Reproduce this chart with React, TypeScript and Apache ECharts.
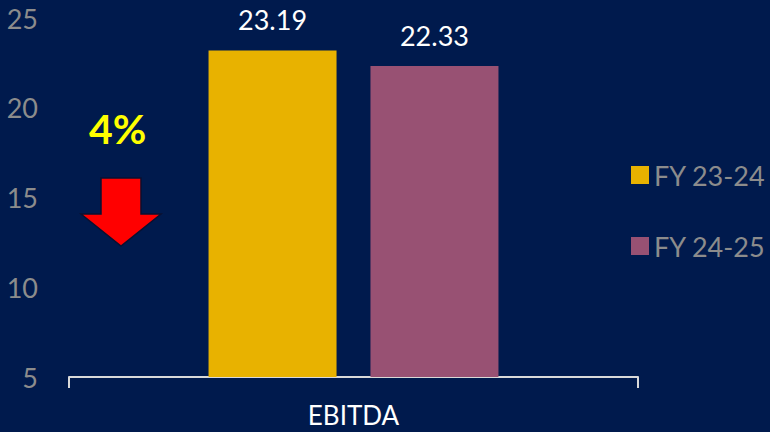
import React, { useEffect, useRef } from "react";
import * as echarts from "echarts";

const categories = ["EBITDA"];
const seriesNames = ["FY 23-24", "FY 24-25"];
const fy2324 = [23.19];
const fy2425 = [22.33];
const changeLabel = "4%";

export default function App() {
  const ref = useRef<HTMLDivElement>(null);
  useEffect(() => {
    document.body.style.margin = "0";
    const chart = echarts.init(ref.current!, null, { renderer: "svg" });
    const font = "Lato, 'Open Sans', sans-serif";
    chart.setOption({
      animation: false,
      backgroundColor: "#001a4d",
      grid: { left: 69, right: 132, top: 18, bottom: 55, containLabel: false },
      legend: {
        orient: "vertical",
        left: 626,
        top: 156,
        itemWidth: 18,
        itemHeight: 18,
        itemGap: 43,
        itemTextGap: 13,
        icon: "rect",
        textStyle: { color: "#8c8c8c", fontSize: 27, lineHeight: 28, fontFamily: font },
        data: seriesNames,
      },
      xAxis: {
        type: "category",
        data: categories,
        axisLine: { lineStyle: { color: "#d9d9d9", width: 2 } },
        axisTick: { show: true, length: 11, lineStyle: { color: "#d9d9d9", width: 2 } },
        axisLabel: { color: "#ffffff", fontSize: 26, lineHeight: 26, fontFamily: font, margin: 25 },
      },
      yAxis: {
        type: "value",
        min: 5,
        max: 25,
        interval: 5,
        axisLine: { show: false },
        axisTick: { show: false },
        splitLine: { show: false },
        axisLabel: { color: "#8c8c8c", fontSize: 27, fontFamily: font, margin: 31 },
      },
      series: [
        {
          name: seriesNames[0],
          type: "bar",
          data: fy2324,
          barWidth: 128,
          barGap: "26.5%",
          itemStyle: { color: "#e8b200" },
          label: { show: true, position: "top", distance: 17, color: "#ffffff", fontSize: 27, fontFamily: font },
        },
        {
          name: seriesNames[1],
          type: "bar",
          data: fy2425,
          barWidth: 128,
          itemStyle: { color: "#985173" },
          label: { show: true, position: "top", distance: 17, color: "#ffffff", fontSize: 27, fontFamily: font },
        },
      ],
      graphic: [
        {
          type: "text",
          left: 89,
          top: 108,
          style: { text: changeLabel, fill: "#ffff00", fontSize: 41, fontWeight: "bold", fontFamily: font },
        },
        {
          type: "polygon",
          shape: {
            points: [
              [101, 178],
              [141, 178],
              [141, 214],
              [161, 214],
              [121, 246],
              [81, 214],
              [101, 214],
            ],
          },
          style: { fill: "#ff0000", stroke: "#0a1030", lineWidth: 1.5 },
        },
      ],
    });
    return () => chart.dispose();
  }, []);
  return <div ref={ref} style={{ position: "fixed", left: 0, top: 0, width: 770, height: 432 }} />;
}
